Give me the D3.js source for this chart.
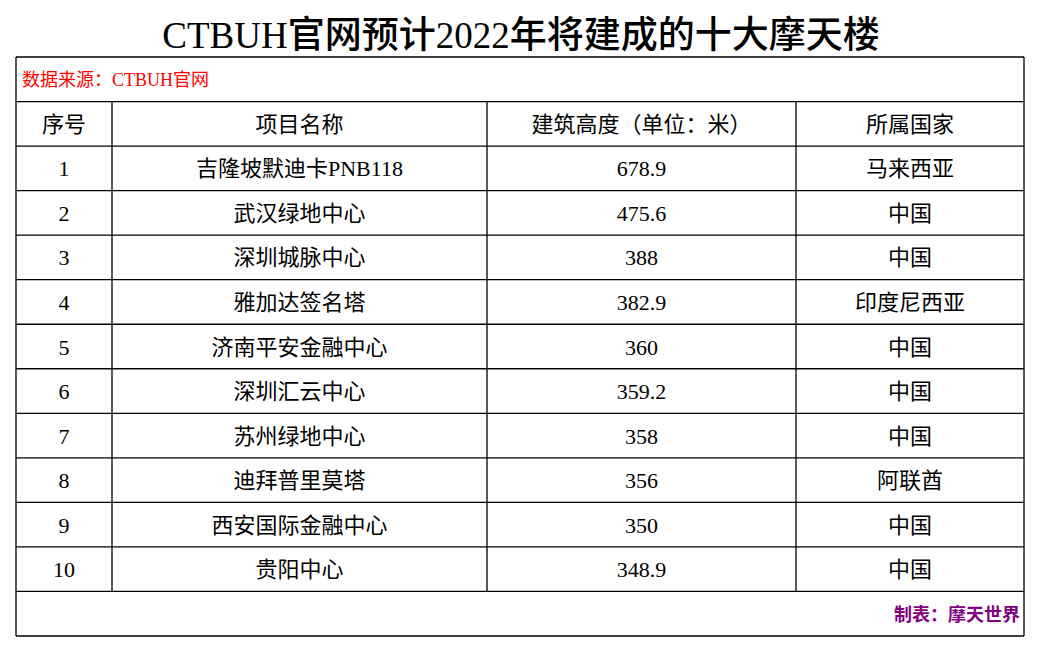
<!DOCTYPE html>
<html><head><meta charset="utf-8">
<script src="https://cdn.jsdelivr.net/npm/d3@7"></script>
<style>body{margin:0;background:#fff}</style>
</head><body><svg id="c" width="1038" height="648"></svg>
<script>
const headers = ['序号', '项目名称', '建筑高度（单位：米）', '所属国家'];
const ranks = [1, 2, 3, 4, 5, 6, 7, 8, 9, 10];
const names = ['吉隆坡默迪卡PNB118', '武汉绿地中心', '深圳城脉中心', '雅加达签名塔', '济南平安金融中心', '深圳汇云中心', '苏州绿地中心', '迪拜普里莫塔', '西安国际金融中心', '贵阳中心'];
const heights = ['678.9', '475.6', '388', '382.9', '360', '359.2', '358', '356', '350', '348.9'];
const countries = ['马来西亚', '中国', '中国', '印度尼西亚', '中国', '中国', '中国', '阿联酋', '中国', '中国'];

const font = '"Liberation Serif","Noto Sans CJK SC",serif';
const svg = d3.select('#c');
const colX = [16, 112, 487, 796, 1024];
const rows = d3.range(14);
const y = d3.scaleLinear().domain([0, 13]).range([57, 636]);

svg.append('text').attr('x', 521).attr('y', 48).attr('text-anchor', 'middle')
  .attr('font-family', font).attr('font-size', 37).attr('font-weight', 500)
  .text('CTBUH官网预计2022年将建成的十大摩天楼');

const g = svg.append('g').attr('stroke', '#000').attr('stroke-width', 1.3);
g.selectAll('.h').data(rows).join('line')
  .attr('x1', 16).attr('x2', 1024).attr('y1', d => y(d)).attr('y2', d => y(d));
g.selectAll('.v').data(colX).join('line')
  .attr('x1', d => d).attr('x2', d => d)
  .attr('y1', (d, i) => (i === 0 || i === 4) ? y(0) : y(1))
  .attr('y2', (d, i) => (i === 0 || i === 4) ? y(13) : y(12));

svg.append('text').attr('x', 22).attr('y', y(0.5) + 7)
  .attr('font-family', font).attr('font-size', 18).attr('fill', '#ff0000')
  .text('数据来源：CTBUH官网');

const table = [headers].concat(ranks.map((r, i) => [r, names[i], heights[i], countries[i]]));
table.forEach((row, ri) => {
  row.forEach((cell, ci) => {
    svg.append('text')
      .attr('x', (colX[ci] + colX[ci + 1]) / 2)
      .attr('y', y(ri + 1.5) + 8)
      .attr('text-anchor', 'middle')
      .attr('font-family', font).attr('font-size', 22)
      .text(cell);
  });
});

svg.append('text').attr('x', 1020).attr('y', y(12.5) + 7).attr('text-anchor', 'end')
  .attr('font-family', font).attr('font-size', 18).attr('font-weight', 700)
  .attr('fill', '#800080').text('制表：摩天世界');
</script></body></html>
